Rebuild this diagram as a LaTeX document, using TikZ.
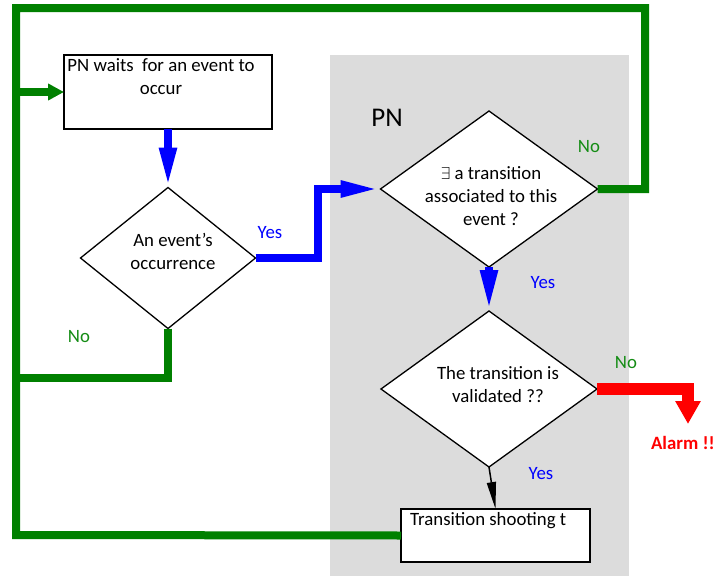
\documentclass[tikz,border=0pt]{standalone}
\usepackage{fontspec}
\setmainfont{Carlito}
\usetikzlibrary{arrows.meta,shapes.geometric}
\definecolor{gfill}{RGB}{220,220,220}
\definecolor{ggreen}{RGB}{0,128,0}
\definecolor{lgreen}{RGB}{20,140,20}
\definecolor{bblue}{RGB}{0,0,255}
\definecolor{rred}{RGB}{255,0,0}
\tikzset{
  box/.style={draw=black,line width=1.4pt,fill=white,rectangle,inner sep=0pt,outer sep=0pt},
  dia/.style={draw=black,line width=1.3pt,fill=white,diamond,inner sep=0pt,outer sep=0pt},
  txt/.style={font=\fontsize{18.8}{23}\selectfont,inner sep=0pt,align=center},
  gline/.style={draw=ggreen,line width=8pt,line join=miter},
  bline/.style={draw=bblue,line width=8pt,line join=miter,-{Triangle[length=40pt,width=16pt]}},
  rline/.style={draw=rred,line width=12pt,line join=miter,-{Triangle[length=23pt,width=24pt]}},
  kline/.style={draw=black,line width=1.5pt,-{Triangle[length=27pt,width=9pt]}},
  lblg/.style={txt,text=lgreen},
  lblb/.style={txt,text=bblue},
}
\begin{document}
\begin{tikzpicture}[x=1pt,y=1pt]
\useasboundingbox (0,0) rectangle (716,-576);
\fill[white] (0,0) rectangle (716,-576);
% gray PN region
\fill[gfill] (330,-55) rectangle (629,-576);
\node[txt,font=\fontsize{27}{30}\selectfont] (pn) at (387,-118) {PN};

% nodes
\node[box,minimum width=208pt,minimum height=74pt] (b1) at (168,-92) {};
\node[txt,anchor=north] (t1) at (161,-58) {PN waits\ \ for an event to\\occur};

\node[dia,minimum width=175pt,minimum height=141pt] (d1) at (168,-258) {};
\node[txt] (t2) at (173,-251) {An event’s\\occurrence};

\node[dia,minimum width=217pt,minimum height=156pt] (d2) at (489,-189) {};
\node[txt] (t3) at (491,-196) {$\exists$ a transition\\associated to this\\event ?};

\node[dia,minimum width=216pt,minimum height=156pt] (d3) at (489,-389) {};
\node[txt] (t4) at (498,-385) {The transition is\\validated ??};

\node[box,minimum width=189pt,minimum height=53pt] (b3) at (495.5,-535.5) {};
\node[txt,anchor=north west] (t5) at (410,-512) {Transition shooting t};

% coordinates
\coordinate (c1) at (645,-189);
\coordinate (c2) at (645,-8);
\coordinate (c3) at (16,-8);
\coordinate (c4) at (16,-535);
\coordinate (c5) at (16,-92);
\coordinate (c6) at (16,-378);
\coordinate (c7) at (318,-258);
\coordinate (al) at (688,-424);

% green loops
\draw[gline] (d2.east) -- (c1) -- (c2) -- (c3) -- (c4) -- (b3.west);
\draw[gline] (d1.south) |- (c6);
\draw[gline,-{Triangle[length=16pt,width=16pt]}] (c5) -- (b1.west);

% blue arrows
\draw[bline] (b1.south) -- (d1.north);
\draw[bline,-{Triangle[length=40pt,width=15pt]}] (d1.east) -- (c7) |- (d2.west);
\draw[bline,-{Triangle[length=41pt,width=16pt]}] (d2.south) -- (d3.north);

% red alarm
\draw[rline] (d3.east) -| (al);
\node[txt,anchor=east,text=rred,font=\fontsize{18.8}{23}\selectfont\bfseries] (alarm) at (715,-443) {Alarm !!};

% black
\draw[kline] (d3.south) -- (b3.north);

% labels
\node[lblb] (y1) at (270,-233) {Yes};
\node[lblg] (n1) at (79,-337) {No};
\node[lblb] (y2) at (543,-283) {Yes};
\node[lblg] (n2) at (589,-147) {No};
\node[lblg] (n3) at (626,-363) {No};
\node[lblb] (y3) at (541,-474) {Yes};
\end{tikzpicture}
\end{document}
